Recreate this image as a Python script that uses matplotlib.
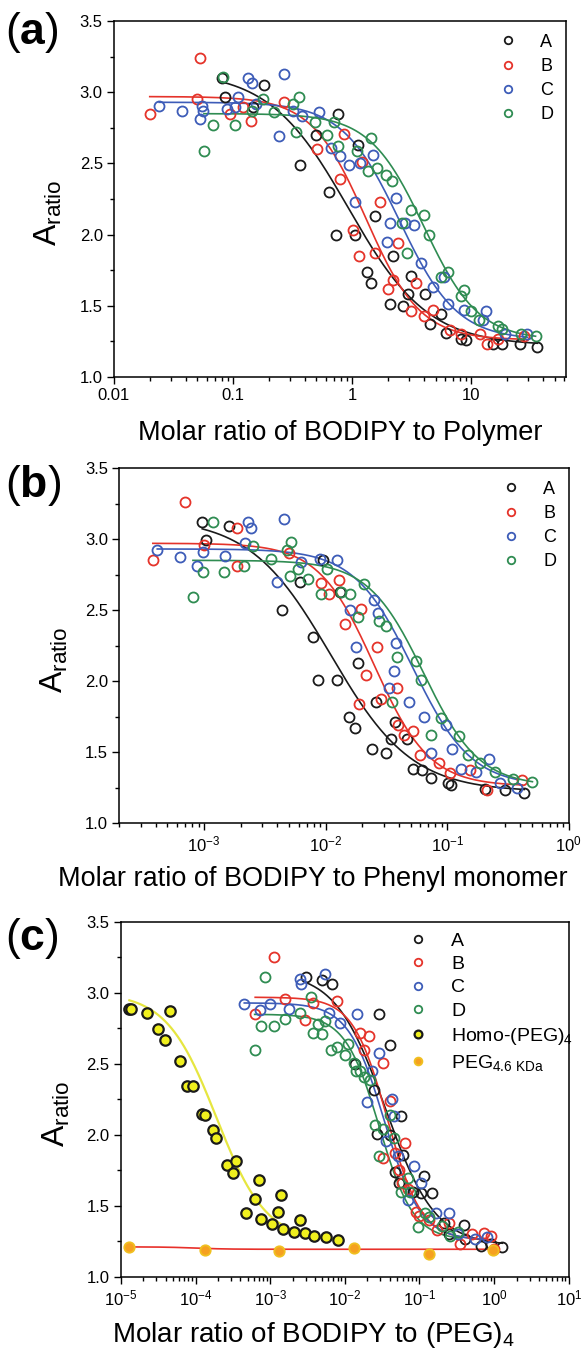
import numpy as np
import matplotlib
matplotlib.use("Agg")
import matplotlib.pyplot as plt
from matplotlib.ticker import MultipleLocator, LogLocator, FixedLocator, FixedFormatter, NullFormatter

plt.rcParams['font.family'] = ['Liberation Sans', 'DejaVu Sans']
plt.rcParams['mathtext.fontset'] = 'custom'
plt.rcParams['mathtext.rm'] = 'Liberation Sans'
plt.rcParams['mathtext.it'] = 'Liberation Sans:italic'
plt.rcParams['mathtext.bf'] = 'Liberation Sans:bold'

# colours
c_A = '#1a1a1a'
c_B = '#e5332a'
c_C = '#3d5cb8'
c_D = '#2f8c52'

# ---------------- panel (a): molar ratio BODIPY / polymer
xa_A = [0.0805, 0.0853, 0.147, 0.183, 0.365, 0.5, 0.64, 0.735, 0.76, 1.05, 1.11, 1.33, 1.43, 1.56,
        2.07, 2.21, 2.64, 2.94, 3.12, 4.10, 4.53, 5.6, 6.13, 8.2, 8.97, 15.1, 18.0, 25.5, 35.7]
ya_A = [3.10, 2.97, 2.90, 3.05, 2.49, 2.70, 2.30, 2.00, 2.85, 2.00, 2.63, 1.74, 1.66, 2.13,
        1.51, 1.85, 1.50, 1.58, 1.71, 1.58, 1.37, 1.44, 1.31, 1.27, 1.26, 1.23, 1.23, 1.23, 1.21]
xa_B = [0.020, 0.050, 0.053, 0.094, 0.12, 0.142, 0.27, 0.505, 0.783, 0.853, 1.02, 1.13, 1.21, 1.54,
        1.70, 2.01, 2.21, 2.40, 3.10, 3.45, 3.98, 4.77, 6.59, 8.2, 11.7, 13.5, 16.8, 27.8]
ya_B = [2.85, 2.95, 3.24, 2.85, 2.90, 2.80, 2.93, 2.60, 2.39, 2.71, 2.03, 1.85, 2.51, 1.87,
        2.23, 1.62, 1.68, 1.94, 1.46, 1.66, 1.43, 1.47, 1.33, 1.30, 1.30, 1.23, 1.27, 1.29]
xa_C = [0.024, 0.0376, 0.053, 0.055, 0.056, 0.089, 0.103, 0.109, 0.133, 0.145, 0.155, 0.244, 0.268,
        0.32, 0.38, 0.53, 0.66, 0.79, 0.94, 1.05, 1.17, 1.5, 1.94, 2.06, 2.32, 2.75, 3.3, 3.8,
        4.77, 5.9, 6.3, 8.7, 12.6, 13.3, 19.0, 29.5]
ya_C = [2.905, 2.87, 2.81, 2.905, 2.87, 2.88, 2.90, 2.97, 3.10, 3.065, 2.92, 2.69, 3.125,
        2.87, 2.83, 2.86, 2.61, 2.55, 2.49, 2.23, 2.50, 2.56, 1.95, 2.08, 2.26, 2.08, 2.07, 1.80,
        1.63, 1.70, 1.51, 1.47, 1.40, 1.46, 1.30, 1.30]
xa_D = [0.057, 0.068, 0.082, 0.103, 0.145, 0.18, 0.22, 0.32, 0.34, 0.36, 0.49, 0.61, 0.70, 0.76,
        1.09, 1.35, 1.43, 1.6, 1.93, 2.15, 2.6, 2.9, 3.1, 4.0, 4.4, 5.6, 6.3, 8.2, 8.7, 10.0,
        11.6, 16.8, 18.0, 26.0, 34.5]
ya_D = [2.59, 2.77, 3.11, 2.77, 2.87, 2.95, 2.86, 2.92, 2.72, 2.97, 2.79, 2.70, 2.79, 2.62,
        2.59, 2.45, 2.68, 2.47, 2.42, 2.38, 2.08, 1.87, 2.17, 2.14, 2.00, 1.70, 1.74, 1.57, 1.61, 1.46,
        1.40, 1.36, 1.34, 1.30, 1.29]

# ---------------- panel (b): molar ratio BODIPY / phenyl monomer
xb_A = [9.66e-4, 1.04e-3, 1.61e-3, 4.36e-3, 6.10e-3, 7.80e-3, 8.67e-3, 9.50e-3, 0.01233, 0.0132,
        0.01555, 0.01753, 0.01854, 0.02404, 0.02618, 0.0312, 0.0342, 0.0372, 0.0469, 0.0521,
        0.0621, 0.0741, 0.1017, 0.1069, 0.203, 0.2965, 0.4305]
yb_A = [3.12, 2.99, 3.09, 2.50, 2.70, 2.31, 2.01, 2.85, 2.01, 2.63,
        1.75, 1.67, 2.13, 1.52, 1.85, 1.49, 1.59, 1.71, 1.59, 1.38,
        1.37, 1.32, 1.28, 1.27, 1.24, 1.23, 1.21]
xb_B = [3.79e-4, 7.03e-4, 1.0e-3, 1.86e-3, 1.86e-3, 5.0e-3, 9.1e-3, 0.0107, 0.01277, 0.0144,
        0.0188, 0.01945, 0.0216, 0.0262, 0.0287, 0.0388, 0.0393, 0.0437, 0.0521, 0.060,
        0.0853, 0.1054, 0.155, 0.213, 0.415]
yb_B = [2.85, 3.26, 2.96, 3.08, 2.81, 2.90, 2.69, 2.61, 2.71, 2.40,
        1.84, 2.51, 2.04, 2.24, 1.87, 1.95, 1.69, 1.62, 1.65, 1.48,
        1.42, 1.35, 1.37, 1.23, 1.30]
xb_C = [4.12e-4, 6.33e-4, 8.81e-4, 9.8e-4, 1.49e-3, 2.17e-3, 2.28e-3, 2.44e-3, 4.0e-3, 4.51e-3,
        6.3e-3, 8.98e-3, 0.0125, 0.0158, 0.0179, 0.0249, 0.0267, 0.033, 0.0366, 0.038,
        0.0486, 0.0644, 0.0741, 0.098, 0.109, 0.130, 0.172, 0.220, 0.27, 0.374]
yb_C = [2.92, 2.87, 2.81, 2.91, 2.88, 2.97, 3.12, 3.08, 2.70, 3.14,
        2.84, 2.86, 2.85, 2.50, 2.24, 2.57, 2.48, 1.95, 2.07, 2.27,
        1.85, 1.75, 1.49, 1.69, 1.52, 1.38, 1.36, 1.45, 1.28, 1.25]
xb_D = [8.1e-4, 9.8e-4, 1.18e-3, 1.47e-3, 2.12e-3, 2.53e-3, 3.55e-3, 4.77e-3, 5.19e-3, 5.1e-3,
        5.9e-3, 7.18e-3, 9.1e-3, 0.01033, 0.01349, 0.0158, 0.0184, 0.0206, 0.0277, 0.0314,
        0.0354, 0.0388, 0.0552, 0.0609, 0.0741, 0.0884, 0.1256, 0.1496, 0.185, 0.245, 0.348, 0.502]
yb_D = [2.59, 2.77, 3.12, 2.77, 2.81, 2.95, 2.86, 2.92, 2.98, 2.74,
        2.79, 2.72, 2.61, 2.79, 2.63, 2.61, 2.45, 2.68, 2.42, 2.39,
        1.85, 2.17, 2.14, 2.01, 1.62, 1.74, 1.61, 1.48, 1.42, 1.36, 1.31, 1.29]

# ---------------- panel (c): molar ratio BODIPY / (PEG)4
xc_A = [3.05e-3, 5.02e-3, 6.76e-3, 0.0138, 0.0247, 0.027, 0.0286, 0.040, 0.0403, 0.0477, 0.0535,
        0.0566, 0.0596, 0.0824, 0.106, 0.116, 0.149, 0.21, 0.25, 0.392, 0.41, 0.66, 0.898, 1.29]
yc_A = [3.11, 3.09, 3.06, 2.50, 2.32, 2.005, 2.85, 2.00, 2.63, 1.74, 1.66,
        2.13, 1.86, 1.60, 1.59, 1.71, 1.59, 1.38, 1.305, 1.365, 1.27, 1.22, 1.235, 1.21]
xc_B = [6.3e-4, 1.12e-3, 1.58e-3, 2.94e-3, 3.7e-3, 7.9e-3, 0.0162, 0.0182, 0.021, 0.0321, 0.032,
        0.040, 0.047, 0.0535, 0.058, 0.0634, 0.07, 0.09, 0.1, 0.133, 0.17, 0.25, 0.349, 0.5,
        0.728, 0.92, 1.0]
yc_B = [2.85, 3.25, 2.96, 2.81, 2.93, 2.94, 2.72, 2.60, 2.70, 2.51, 1.835,
        2.24, 1.87, 1.75, 1.66, 1.94, 1.62, 1.46, 1.43, 1.40, 1.33, 1.38, 1.235, 1.30,
        1.31, 1.29, 1.20]
xc_C = [4.5e-4, 7.27e-4, 1.0e-3, 1.77e-3, 2.49e-3, 2.6e-3, 5.38e-3, 6.1e-3, 8.6e-3, 0.0145, 0.0197,
        0.0228, 0.0286, 0.036, 0.0427, 0.046, 0.051, 0.071, 0.085, 0.105, 0.165, 0.25, 0.33,
        0.55, 0.8]
yc_C = [2.92, 2.88, 2.92, 2.89, 3.10, 3.065, 3.13, 2.86, 2.79, 2.85, 2.23,
        2.45, 2.575, 1.96, 2.25, 2.13, 1.85, 1.54, 1.78, 1.66, 1.45, 1.45, 1.30,
        1.27, 1.28]
xc_D = [6.2e-4, 7.5e-4, 8.43e-4, 1.12e-3, 1.58e-3, 2.5e-3, 3.5e-3, 3.7e-3, 4.4e-3, 4.9e-3, 5.5e-3,
        6.5e-3, 7.9e-3, 0.01, 0.0111, 0.0133, 0.014, 0.0162, 0.018, 0.0215, 0.0256, 0.0286, 0.032,
        0.040, 0.045, 0.056, 0.07, 0.075, 0.095, 0.12, 0.133, 0.2, 0.26, 0.33]
yc_D = [2.60, 2.77, 3.11, 2.77, 2.82, 2.86, 2.97, 2.72, 2.78, 2.71, 2.80,
        2.60, 2.62, 2.56, 2.64, 2.51, 2.45, 2.45, 2.41, 2.39, 2.07, 1.85, 2.04,
        2.14, 1.98, 1.60, 1.70, 1.60, 1.35, 1.45, 1.42, 1.36, 1.29, 1.32]
xc_homo = [1.30e-5, 1.35e-5, 2.22e-5, 3.12e-5, 3.96e-5, 4.49e-5, 6.17e-5, 7.75e-5, 9.18e-5, 1.22e-4,
           1.32e-4, 1.72e-4, 1.86e-4, 2.61e-4, 3.13e-4, 3.51e-4, 4.78e-4, 6.21e-4, 7.1e-4, 7.53e-4,
           1.06e-3, 1.29e-3, 1.41e-3, 1.49e-3, 2.09e-3, 2.54e-3, 2.94e-3, 3.92e-3, 5.64e-3, 8.2e-3]
yc_homo = [2.886, 2.89, 2.86, 2.745, 2.67, 2.87, 2.52, 2.345, 2.345, 2.15,
           2.14, 2.035, 1.976, 1.79, 1.73, 1.82, 1.45, 1.55, 1.68, 1.41,
           1.376, 1.46, 1.58, 1.34, 1.32, 1.40, 1.31, 1.29, 1.28, 1.26]
xc_peg = [1.30e-5, 1.32e-4, 1.33e-3, 0.0132, 0.133, 0.973]
yc_peg = [1.21, 1.193, 1.183, 1.207, 1.165, 1.188]

# logistic fit parameters: (top, bottom, x0, p)
fit_a = {'A': (3.15, 1.22, 0.93, 1.3), 'B': (2.97, 1.26, 1.3, 1.9),
         'C': (2.93, 1.26, 2.5, 1.8), 'D': (2.85, 1.26, 4.0, 1.9)}
fit_b = {'A': (3.15, 1.22, 0.011, 1.3), 'B': (2.97, 1.26, 0.025, 1.9),
         'C': (2.93, 1.26, 0.052, 1.8), 'D': (2.85, 1.26, 0.064, 1.9)}
fit_c = {'A': (3.15, 1.22, 0.035, 1.3), 'B': (2.97, 1.26, 0.037, 1.9),
         'C': (2.93, 1.26, 0.034, 1.8), 'D': (2.85, 1.26, 0.029, 1.9),
         'homo': (3.0, 1.25, 1.9e-4, 1.3), 'peg': (1.212, 1.195, 1.0e-4, 2.0)}


def logistic(x, top, bottom, x0, p):
    return bottom + (top - bottom) / (1 + (x / x0) ** p)


def draw_series(ax, x, y, color, fit, label):
    ax.plot(x, y, 'o', ls='none', ms=7.2, mfc='none', mec=color, mew=1.3, label=label, zorder=3)
    xs = np.logspace(np.log10(min(x)), np.log10(max(x)), 200)
    ax.plot(xs, logistic(xs, *fit), '-', color=color, lw=1.2, zorder=2)


def style_axis(ax):
    ax.set_xscale('log')
    ax.set_ylim(1.0, 3.5)
    ax.yaxis.set_major_locator(MultipleLocator(0.5))
    ax.yaxis.set_minor_locator(MultipleLocator(0.25))
    ax.yaxis.set_major_formatter(plt.FuncFormatter(lambda v, p: f"{v:.1f}"))
    ax.tick_params(which='both', direction='out', top=False, right=False, labelsize=12, width=1.0)
    ax.tick_params(which='major', length=5, pad=3)
    ax.tick_params(which='minor', length=3)
    ax.xaxis.set_minor_locator(LogLocator(base=10, subs=np.arange(2, 10)))
    ax.xaxis.set_minor_formatter(NullFormatter())
    for s in ax.spines.values():
        s.set_linewidth(1.1)
    ax.set_ylabel(r"A$_{\mathrm{ratio}}$", fontsize=23)
    ax.yaxis.set_label_coords(-0.11, 0.46)


fig = plt.figure(figsize=(5.81, 13.53), dpi=100)

ax1 = fig.add_axes([0.196, 0.7214, 0.778, 0.263])
ax2 = fig.add_axes([0.205, 0.3917, 0.774, 0.2624])
ax3 = fig.add_axes([0.208, 0.0562, 0.771, 0.2624])

# (a)
draw_series(ax1, xa_A, ya_A, c_A, fit_a['A'], 'A')
draw_series(ax1, xa_B, ya_B, c_B, fit_a['B'], 'B')
draw_series(ax1, xa_C, ya_C, c_C, fit_a['C'], 'C')
draw_series(ax1, xa_D, ya_D, c_D, fit_a['D'], 'D')
style_axis(ax1)
ax1.set_xlim(0.01, 62)
ax1.xaxis.set_major_locator(FixedLocator([0.01, 0.1, 1, 10]))
ax1.xaxis.set_major_formatter(FixedFormatter(['0.01', '0.1', '1', '10']))
ax1.set_xlabel("Molar ratio of BODIPY to Polymer", fontsize=19.5)
ax1.xaxis.set_label_coords(0.5, -0.12)
ax1.legend(loc='upper right', frameon=False, fontsize=13, handletextpad=0.8,
           labelspacing=0.4, borderaxespad=0.3, markerscale=0.75)

# (b)
draw_series(ax2, xb_A, yb_A, c_A, fit_b['A'], 'A')
draw_series(ax2, xb_B, yb_B, c_B, fit_b['B'], 'B')
draw_series(ax2, xb_C, yb_C, c_C, fit_b['C'], 'C')
draw_series(ax2, xb_D, yb_D, c_D, fit_b['D'], 'D')
style_axis(ax2)
ax2.set_xlim(2.0e-4, 1.0)
ax2.xaxis.set_major_locator(LogLocator(base=10, numticks=10))
ax2.set_xlabel("Molar ratio of BODIPY to Phenyl monomer", fontsize=19.5)
ax2.xaxis.set_label_coords(0.43, -0.12)
ax2.legend(loc='upper right', frameon=False, fontsize=13, handletextpad=0.8,
           labelspacing=0.4, borderaxespad=0.3, markerscale=0.75)

# (c)
draw_series(ax3, xc_A, yc_A, c_A, fit_c['A'], 'A')
draw_series(ax3, xc_B, yc_B, c_B, fit_c['B'], 'B')
draw_series(ax3, xc_C, yc_C, c_C, fit_c['C'], 'C')
draw_series(ax3, xc_D, yc_D, c_D, fit_c['D'], 'D')
xs = np.logspace(np.log10(min(xc_homo)), np.log10(max(xc_homo)), 200)
ax3.plot(xs, logistic(xs, *fit_c['homo']), '-', color='#e6e640', lw=1.6, zorder=2)
ax3.plot(xc_homo, yc_homo, 'o', ls='none', ms=7.5, mfc='#f0f01e', mec='#1a1a1a', mew=1.6,
         label=r'Homo-(PEG)$_4$', zorder=4)
xs = np.logspace(np.log10(min(xc_peg)), np.log10(max(xc_peg)), 200)
ax3.plot(xs, logistic(xs, *fit_c['peg']), '-', color='#e8302a', lw=1.2, zorder=2)
ax3.plot(xc_peg, yc_peg, 'o', ls='none', ms=7.5, mfc='#f5a020', mec='#f0c020', mew=1.3,
         label=r'PEG$_{4.6\ \mathrm{KDa}}$', zorder=4)
style_axis(ax3)
ax3.set_xlim(1e-5, 10)
ax3.xaxis.set_major_locator(LogLocator(base=10, numticks=10))
ax3.set_xlabel(r"Molar ratio of BODIPY to (PEG)$_4$", fontsize=20)
ax3.xaxis.set_label_coords(0.43, -0.12)
ax3.legend(loc='upper left', bbox_to_anchor=(0.59, 1.01), frameon=False, fontsize=14,
           handletextpad=0.7, labelspacing=0.3, borderaxespad=0.3, markerscale=0.75)

# panel letters
for lab, ypos in [('a', 0.976), ('b', 0.6415), ('c', 0.3067)]:
    fig.text(0.008, ypos, "(" + r"$\mathbf{" + lab + "}$" + ")", fontsize=32, va='center', ha='left')

fig.savefig("out.png", dpi=100)
